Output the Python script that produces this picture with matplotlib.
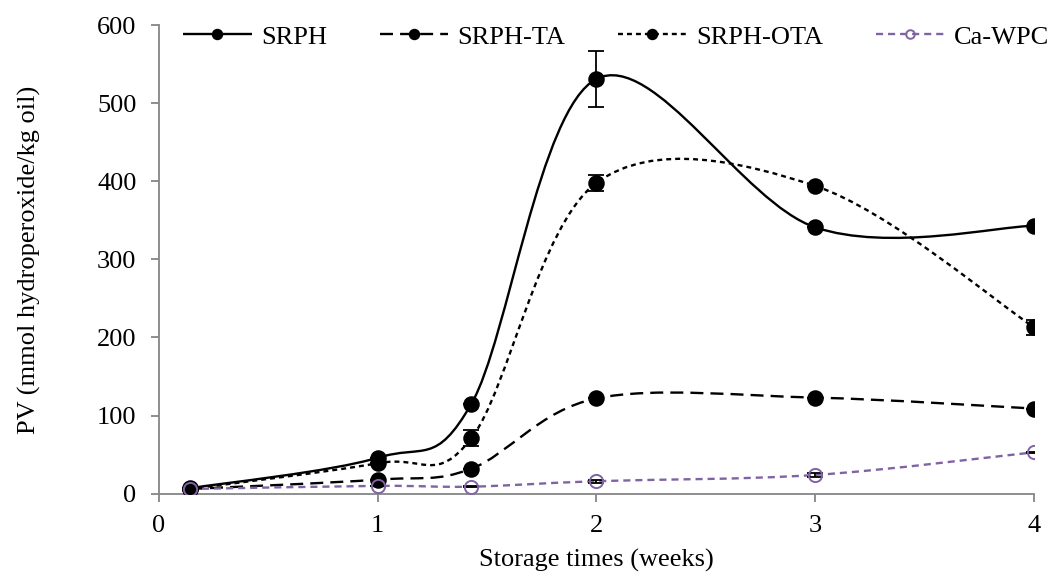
import numpy as np
import matplotlib.pyplot as plt
from matplotlib.path import Path
from matplotlib.patches import PathPatch
from matplotlib.lines import Line2D

plt.rcParams['font.family'] = ['Liberation Serif', 'DejaVu Serif']

# Data
weeks = [1 / 7, 1, 10 / 7, 2, 3, 4]
srph = [7, 46, 115, 531, 341, 343]
srph_err = [0, 0, 0, 36, 0, 0]
srph_ta = [6, 18, 32, 122, 123, 109]
srph_ta_err = [0, 0, 0, 0, 0, 0]
srph_ota = [6, 39, 71, 398, 394, 213]
srph_ota_err = [0, 0, 10, 10, 0, 10]
ca_wpc = [6, 10, 9, 16, 24, 53]
ca_wpc_err = [0, 0, 1, 2, 3, 1]

series_names = ['SRPH', 'SRPH-TA', 'SRPH-OTA', 'Ca-WPC']
purple = '#8064A2'
grey = '#868686'
fs = 19


def smooth_path(x, y):
    # Excel-style smoothed line: cubic Bezier through each point (Catmull-Rom tangents)
    pts = np.column_stack([x, y]).astype(float)
    n = len(pts)
    verts = [pts[0]]
    codes = [Path.MOVETO]
    for i in range(n - 1):
        p0 = pts[max(i - 1, 0)]
        p1 = pts[i]
        p2 = pts[i + 1]
        p3 = pts[min(i + 2, n - 1)]
        c1 = p1 + (p2 - p0) / 6
        c2 = p2 - (p3 - p1) / 6
        verts += [c1, c2, p2]
        codes += [Path.CURVE4] * 3
    return Path(verts, codes)


fig = plt.figure(figsize=(10.51, 5.75), dpi=100)
ax = fig.add_axes([0.151, 0.1414, 0.833, 0.815])

styles = [
    (srph, srph_err, 'black', (0, ()), 'black'),
    (srph_ta, srph_ta_err, 'black', (0, (5.5, 3.0)), 'black'),
    (srph_ota, srph_ota_err, 'black', (0, (2.1, 1.7)), 'black'),
    (ca_wpc, ca_wpc_err, purple, (0, (3.0, 2.1)), 'none'),
]

handles = []
for (vals, errs, col, ls, mfc), name in zip(styles, series_names):
    ms = 10.5 if mfc == 'black' else 9.5
    patch = PathPatch(smooth_path(weeks, vals), facecolor='none', edgecolor=col,
                      linewidth=1.7, linestyle=ls, zorder=2)
    ax.add_patch(patch)
    ax.errorbar(weeks, vals, yerr=errs, fmt='none', ecolor='black',
                elinewidth=1.3, capsize=5.5, capthick=1.3, zorder=3)
    ax.plot(weeks, vals, linestyle='none', marker='o', markersize=ms,
            markerfacecolor=mfc, markeredgecolor=col, markeredgewidth=1.4, zorder=4)
    handles.append(Line2D([], [], color=col, linestyle=ls, linewidth=1.7, marker='o',
                          markersize=ms, markerfacecolor=mfc, markeredgecolor=col,
                          markeredgewidth=1.4, label=name))

ax.set_xlim(0, 4)
ax.set_ylim(0, 600)
ax.set_xticks([0, 1, 2, 3, 4])
ax.set_yticks(np.arange(0, 601, 100))

for side in ['top', 'right']:
    ax.spines[side].set_visible(False)
for side in ['left', 'bottom']:
    ax.spines[side].set_color(grey)
    ax.spines[side].set_linewidth(1.3)
ax.tick_params(axis='both', colors=grey, labelcolor='black', labelsize=fs,
               direction='out', length=6, width=1.3)
ax.tick_params(axis='x', pad=9)
ax.tick_params(axis='y', pad=10)

ax.set_xlabel('Storage times (weeks)', fontsize=fs, labelpad=9)
ax.set_ylabel('PV (mmol hydroperoxide/kg oil)', fontsize=fs, labelpad=40)

ax.legend(handles=handles, loc='center left',
          bbox_to_anchor=(183 / 1051, 1 - 37 / 575), bbox_transform=fig.transFigure,
          ncol=4, frameon=False, fontsize=fs, handlelength=2.6, columnspacing=2.0,
          handletextpad=0.35, borderpad=0, borderaxespad=0, markerscale=0.65)

fig.savefig('out.png', dpi=100)
